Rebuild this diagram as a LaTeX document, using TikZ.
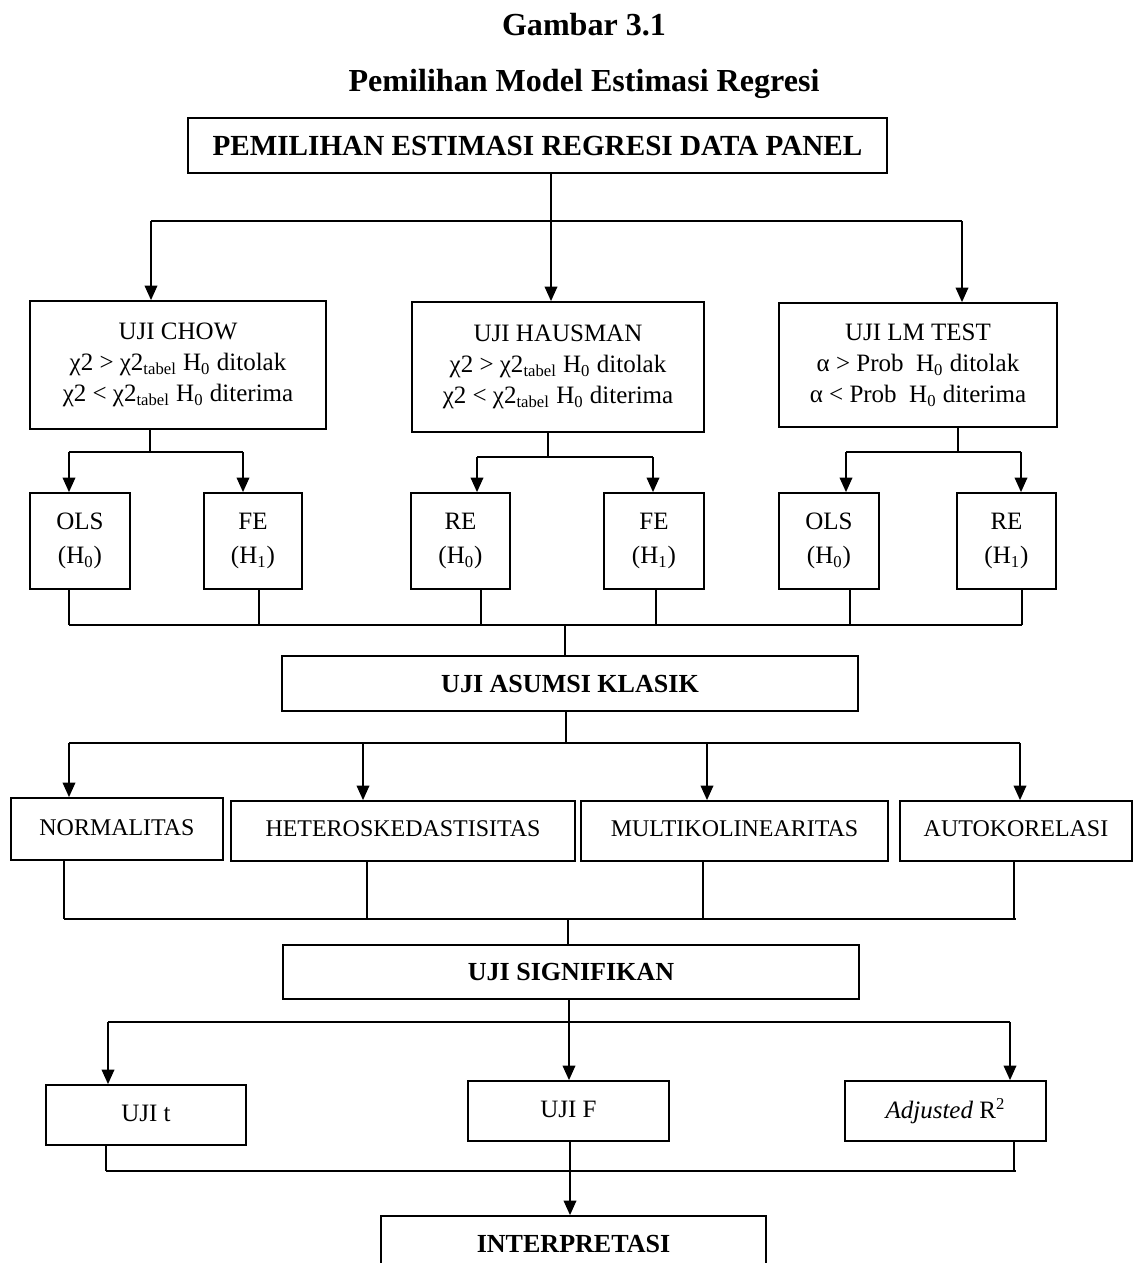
\documentclass[tikz,border=0pt]{standalone}
\usepackage{fontspec}
\setmainfont{Liberation Serif}
\usetikzlibrary{arrows.meta}
\newcommand\bx[7][]{\node[boxst,#1,minimum width={(#5-#3)*0.48pt},minimum height={(#6-#4)*0.48pt}] (#2) at ({(#3+#5)/2},{(#4+#6)/2}) {#7};}
\tikzset{
  boxst/.style={draw,line width=0.8pt,inner sep=0pt,align=center,font=\fontsize{12}{15}\selectfont},
  bfbox/.style={font=\fontsize{12.5}{15}\selectfont\bfseries},
  smallbox/.style={font=\fontsize{12}{16.3}\selectfont},
  asbox/.style={font=\fontsize{11.5}{14}\selectfont},
  thinln/.style={line width=0.5pt},
  medln/.style={line width=0.8pt},
  arr/.style={line width=1pt,-{Triangle[length=7pt,width=6pt]}},
}
\begin{document}
\begin{tikzpicture}[x=0.48pt,y=-0.48pt]
\path[use as bounding box] (0,0) rectangle (1134,1263);
% titles
\node[anchor=base,font=\fontsize{15.4}{18}\selectfont\bfseries] (t1) at (584,36) {Gambar 3.1};
\node[anchor=base,font=\fontsize{15.4}{18}\selectfont\bfseries] (t2) at (584,91) {Pemilihan Model Estimasi Regresi};
% top box
\bx[font=\fontsize{14}{16}\selectfont\bfseries]{top}{188}{118}{887}{173}{PEMILIHAN ESTIMASI REGRESI DATA PANEL}
% tests
\bx{chow}{30}{301}{326}{429}{UJI CHOW\\ χ2 > χ2\textsubscript{tabel} H\textsubscript{0} ditolak\\ χ2 < χ2\textsubscript{tabel} H\textsubscript{0} diterima}
\bx{haus}{412}{302}{704}{432}{UJI HAUSMAN\\ χ2 > χ2\textsubscript{tabel} H\textsubscript{0} ditolak\\ χ2 < χ2\textsubscript{tabel} H\textsubscript{0} diterima}
\bx{lm}{779}{303}{1057}{427}{UJI LM TEST\\ α > Prob\ \ H\textsubscript{0} ditolak\\ α < Prob\ \ H\textsubscript{0} diterima}
% model boxes
\bx[smallbox]{ols1}{30}{493}{130}{589}{OLS\\(H\textsubscript{0})}
\bx[smallbox]{fe1}{204}{493}{302}{589}{FE\\(H\textsubscript{1})}
\bx[smallbox]{re2}{411}{493}{510}{589}{RE\\(H\textsubscript{0})}
\bx[smallbox]{fe2}{604}{493}{704}{589}{FE\\(H\textsubscript{1})}
\bx[smallbox]{ols3}{779}{493}{879}{589}{OLS\\(H\textsubscript{0})}
\bx[smallbox]{re3}{957}{493}{1056}{589}{RE\\(H\textsubscript{1})}
% asumsi
\bx[bfbox]{asumsi}{282}{656}{858}{711}{UJI ASUMSI KLASIK}
\bx[asbox]{norm}{11}{798}{223}{860}{\raisebox{1pt}{NORMALITAS}}
\bx[asbox]{hetero}{231}{801}{575}{861}{\raisebox{2pt}{HETEROSKEDASTISITAS}}
\bx[asbox]{multi}{581}{801}{888}{861}{\raisebox{2pt}{MULTIKOLINEARITAS}}
\bx[asbox]{auto}{900}{801}{1132}{861}{\raisebox{2pt}{AUTOKORELASI}}
% signifikan
\bx[bfbox]{signif}{283}{945}{859}{999}{UJI SIGNIFIKAN}
\bx{ujit}{46}{1085}{246}{1145}{\raisebox{2pt}{UJI t}}
\bx{ujif}{468}{1081}{669}{1141}{\raisebox{2pt}{UJI F}}
\bx{adj}{845}{1081}{1046}{1141}{\raisebox{2pt}{\textit{Adjusted} R\textsuperscript{2}}}
\bx[bfbox]{interp}{381}{1216}{766}{1272}{INTERPRETASI}
% junctions
\coordinate (j0) at (551,221);
\coordinate (j0l) at (151,221);
\coordinate (j0r) at (962,221);
\coordinate (j1) at (150,452);
\coordinate (j1l) at (69,452);
\coordinate (j1r) at (243,452);
\coordinate (j2) at (548,457);
\coordinate (j2l) at (477,457);
\coordinate (j2r) at (653,457);
\coordinate (j3) at (958,452);
\coordinate (j3l) at (846,452);
\coordinate (j3r) at (1021,452);
\coordinate (c1) at (565,625);
\coordinate (c1l) at (69,625);
\coordinate (c1r) at (1022,625);
\coordinate (k1) at (566,743);
\coordinate (k1a) at (69,743);
\coordinate (k1b) at (363,743);
\coordinate (k1c) at (707,743);
\coordinate (k1d) at (1020,743);
\coordinate (c2) at (568,919);
\coordinate (c2l) at (64,919);
\coordinate (c2r) at (1016,919);
\coordinate (k2) at (569,1022);
\coordinate (k2l) at (108,1022);
\coordinate (k2r) at (1010,1022);
\coordinate (c3) at (570,1171);
\coordinate (c3l) at (106,1171);
\coordinate (c3r) at (1016,1171);
% top distribution
\draw[thinln] (top.south -| j0) -- (j0);
\draw[medln] (j0l) -- (j0r);
\draw[arr] (j0l) -- (j0l |- chow.north);
\draw[arr] (j0) -- (j0 |- haus.north);
\draw[arr] (j0r) -- (j0r |- lm.north);
% chow
\draw[thinln] (chow.south -| j1) -- (j1);
\draw[medln] (j1l) -- (j1r);
\draw[arr] (j1l) -- (j1l |- ols1.north);
\draw[arr] (j1r) -- (j1r |- fe1.north);
% hausman
\draw[thinln] (haus.south -| j2) -- (j2);
\draw[medln] (j2l) -- (j2r);
\draw[arr] (j2l) -- (j2l |- re2.north);
\draw[arr] (j2r) -- (j2r |- fe2.north);
% lm
\draw[thinln] (lm.south -| j3) -- (j3);
\draw[medln] (j3l) -- (j3r);
\draw[arr] (j3l) -- (j3l |- ols3.north);
\draw[arr] (j3r) -- (j3r |- re3.north);
% collect models
\draw[thinln] (ols1.south -| c1l) -- (c1l);
\draw[thinln] (fe1.south -| 259,0) -- (259,625);
\draw[thinln] (re2.south -| 481,0) -- (481,625);
\draw[thinln] (fe2.south -| 656,0) -- (656,625);
\draw[thinln] (ols3.south -| 850,0) -- (850,625);
\draw[thinln] (re3.south -| c1r) -- (c1r);
\draw[medln] (c1l) -- (c1r);
\draw[thinln] (c1) -- (c1 |- asumsi.north);
% asumsi distribution
\draw[thinln] (asumsi.south -| k1) -- (k1);
\draw[medln] (k1a) -- (k1d);
\draw[arr] (k1a) -- (k1a |- norm.north);
\draw[arr] (k1b) -- (k1b |- hetero.north);
\draw[arr] (k1c) -- (k1c |- multi.north);
\draw[arr] (k1d) -- (k1d |- auto.north);
% collect assumptions
\draw[thinln] (norm.south -| c2l) -- (c2l);
\draw[thinln] (hetero.south -| 367,0) -- (367,919);
\draw[thinln] (multi.south -| 703,0) -- (703,919);
\draw[thinln] (auto.south -| 1014,0) -- (1014,919);
\draw[medln] (c2l) -- (c2r);
\draw[thinln] (c2) -- (c2 |- signif.north);
% signifikan distribution
\draw[thinln] (signif.south -| k2) -- (k2);
\draw[medln] (k2l) -- (k2r);
\draw[arr] (k2l) -- (k2l |- ujit.north);
\draw[arr] (k2) -- (k2 |- ujif.north);
\draw[arr] (k2r) -- (k2r |- adj.north);
% collect
\draw[thinln] (ujit.south -| c3l) -- (c3l);
\draw[thinln] (adj.south -| 1014,0) -- (1014,1171);
\draw[medln] (c3l) -- (c3r);
\draw[thinln] (ujif.south -| c3) -- (c3);
\draw[arr] (c3) -- (c3 |- interp.north);
\end{tikzpicture}
\end{document}
